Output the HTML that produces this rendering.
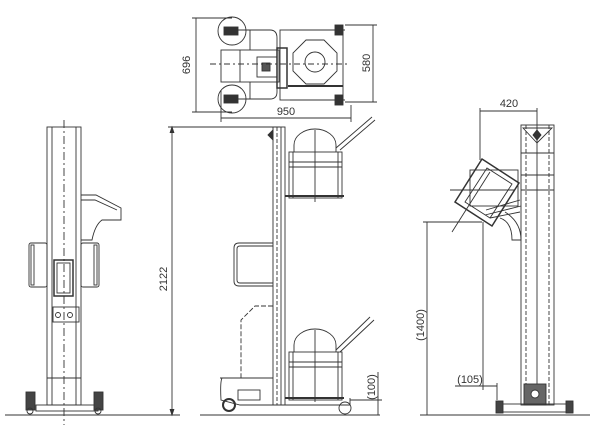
<!DOCTYPE html>
<html><head><meta charset="utf-8"><style>
html,body{margin:0;padding:0;background:#fff;width:600px;height:434px;overflow:hidden}
svg{display:block}
text{font-family:"Liberation Sans",sans-serif;font-size:11px;fill:#333;stroke:none}
</style></head><body>
<svg width="600" height="434" viewBox="0 0 600 434" xmlns="http://www.w3.org/2000/svg" fill="none" stroke="#333" stroke-width="0.9">
<line x1="5" y1="415" x2="180" y2="415"/>
<line x1="200" y1="415" x2="380" y2="415"/>
<line x1="420" y1="415" x2="590" y2="415"/>

<!-- LEFT VIEW -->
<rect x="47" y="127" width="34" height="278"/>
<line x1="52" y1="127" x2="52" y2="405"/><line x1="76" y1="127" x2="76" y2="405"/>
<line x1="64" y1="120" x2="64" y2="425" stroke-dasharray="8,3,2,3"/>
<path d="M81 195 L96 195 L121 208 L121 220 L102 220 Q95 225 92 240 L81 240"/>
<path d="M81 200 L95 200 L117 210"/>
<rect x="29" y="243" width="18" height="44" rx="2"/><rect x="31" y="245" width="3" height="40"/>
<rect x="81" y="243" width="18" height="44" rx="2"/><rect x="94" y="245" width="3" height="40"/>
<rect x="54" y="260" width="19" height="36" stroke-width="1.5"/>
<rect x="57" y="263" width="13" height="30"/>
<rect x="53" y="307" width="26" height="15"/>
<circle cx="58" cy="315" r="2.5"/><circle cx="70" cy="315" r="2.5"/>
<line x1="47" y1="378" x2="81" y2="378"/>
<rect x="36" y="405" width="62" height="6"/>
<rect x="26" y="392" width="9" height="18" fill="#444"/><circle cx="30" cy="411" r="3"/>
<rect x="94" y="392" width="9" height="18" fill="#444"/><circle cx="98" cy="411" r="3"/>

<!-- 2122 dimension -->
<line x1="172" y1="127" x2="172" y2="415"/>
<line x1="168" y1="127" x2="280" y2="127"/>
<path d="M170 133 L172 127 L174 133 M170 409 L172 415 L174 409" fill="#333"/>
<text transform="translate(167,279) rotate(-90)" text-anchor="middle">2122</text>

<!-- TOP VIEW -->
<line x1="196" y1="18" x2="196" y2="112"/>
<line x1="192" y1="18" x2="232" y2="18"/><line x1="192" y1="112" x2="232" y2="112"/>
<text transform="translate(190,65) rotate(-90)" text-anchor="middle">696</text>
<circle cx="232" cy="31" r="14"/><circle cx="232" cy="99" r="14"/>
<rect x="224" y="27" width="14" height="8" fill="#333"/><rect x="224" y="95" width="14" height="8" fill="#333"/>
<path d="M238 30 L270 30 Q277 30 277 38 L277 50 M238 99 L270 99 Q277 99 277 92 L277 82"/>
<path d="M250 30 L250 50 M250 99 L250 82"/>
<rect x="221" y="50" width="58" height="32"/>
<line x1="240" y1="50" x2="240" y2="82"/>
<rect x="257" y="57" width="20" height="20"/><rect x="262" y="63" width="8" height="8" fill="#555"/>
<rect x="277" y="48" width="10" height="40" stroke-width="1.5"/>
<rect x="280" y="30" width="63" height="70"/>
<line x1="290" y1="30" x2="345" y2="30"/><line x1="290" y1="100" x2="345" y2="100"/>
<rect x="335" y="25" width="8" height="10" fill="#333"/><rect x="335" y="95" width="8" height="10" fill="#333"/>
<polygon points="306,40 324,40 337,53 337,71 324,84 306,84 293,71 293,53"/>
<circle cx="315" cy="62" r="10"/>
<line x1="288" y1="86" x2="343" y2="86" stroke-width="2"/>
<line x1="210" y1="64" x2="350" y2="64" stroke-dasharray="6,3,2,3"/>
<line x1="221" y1="118" x2="351" y2="118"/>
<line x1="221" y1="90" x2="221" y2="122"/><line x1="351" y1="105" x2="351" y2="122"/>
<text x="286" y="115" text-anchor="middle">950</text>
<line x1="373" y1="25" x2="373" y2="102"/>
<line x1="345" y1="25" x2="377" y2="25"/><line x1="345" y1="102" x2="377" y2="102"/>
<text transform="translate(370,63) rotate(-90)" text-anchor="middle">580</text>

<!-- MIDDLE VIEW -->
<rect x="273" y="127" width="12" height="278"/>
<line x1="277" y1="127" x2="277" y2="405" stroke-dasharray="4,2"/>
<line x1="281" y1="127" x2="281" y2="405"/>
<path d="M268 135 L273 130 L273 140 Z" fill="#333"/>
<path d="M294 152 L294 145 A21 16 0 0 1 336 145 L336 152"/>
<rect x="289" y="152" width="53" height="46"/>
<line x1="289" y1="162" x2="342" y2="162"/><line x1="289" y1="167" x2="342" y2="167"/>
<line x1="293" y1="152" x2="293" y2="198"/><line x1="338" y1="152" x2="338" y2="198"/>
<line x1="285" y1="196" x2="344" y2="196" stroke-width="2"/>
<line x1="315" y1="130" x2="315" y2="202"/>
<line x1="336" y1="148" x2="372" y2="117"/><line x1="340" y1="150" x2="375" y2="120"/>
<path d="M294 352 L294 345 A21 16 0 0 1 336 345 L336 352"/>
<rect x="289" y="352" width="53" height="48"/>
<line x1="289" y1="362" x2="342" y2="362"/><line x1="289" y1="367" x2="342" y2="367"/>
<line x1="293" y1="352" x2="293" y2="400"/><line x1="338" y1="352" x2="338" y2="400"/>
<line x1="285" y1="398" x2="344" y2="398" stroke-width="2"/>
<line x1="315" y1="330" x2="315" y2="402"/>
<line x1="336" y1="350" x2="370" y2="317"/><line x1="340" y1="352" x2="374" y2="320"/>
<path d="M273 243 L239 243 Q234 243 234 248 L234 281 Q234 286 239 286 L273 286"/>
<path d="M273 246 L240 246 Q237 246 237 249 L237 280 Q237 283 240 283 L273 283"/>
<path d="M273 306 L255 306 L241 320 L241 378" stroke-dasharray="5,2"/>
<path d="M220 378 L273 378 M222 378 Q220 382 221 400 L240 405 L350 405 L350 398"/>
<rect x="238" y="390" width="22" height="10"/>
<circle cx="229" cy="405" r="6" stroke-width="2"/>
<circle cx="345" cy="408" r="6"/>
<line x1="378" y1="372" x2="378" y2="415"/>
<line x1="350" y1="400" x2="382" y2="400"/>
<text transform="translate(375,387) rotate(-90)" text-anchor="middle">(100)</text>

<!-- RIGHT VIEW -->
<rect x="521" y="125" width="33" height="280"/>
<line x1="526" y1="125" x2="526" y2="405" stroke-dasharray="4,2"/>
<line x1="549" y1="125" x2="549" y2="405" stroke-dasharray="4,2"/>
<line x1="537" y1="125" x2="537" y2="405"/>
<path d="M523 128 L552 128 L537 143 Z"/>
<path d="M537 130 L541 135 L537 140 L533 135 Z" fill="#333"/>
<line x1="521" y1="153" x2="554" y2="153"/><line x1="521" y1="175" x2="554" y2="175"/><line x1="521" y1="190" x2="554" y2="190"/>
<rect x="524" y="384" width="22" height="21" fill="#666"/>
<circle cx="535" cy="394" r="4" fill="#fff"/>
<rect x="500" y="404" width="73" height="8"/>
<rect x="496" y="401" width="7" height="12" fill="#444"/><rect x="566" y="401" width="7" height="12" fill="#444"/>
<polygon points="482,159 519,183 492,226 455,202" stroke-width="1.5"/>
<polygon points="487,168 512,184 490,218 465,202"/>
<rect x="470" y="170" width="48" height="36"/>
<line x1="450" y1="190" x2="515" y2="190"/>
<line x1="452" y1="232" x2="490" y2="172"/>
<path d="M486 210 L520 200 M485 215 L521 206 M490 218 L520 212"/>
<path d="M500 218 Q512 222 512 240 L521 240 Q521 222 505 212"/>
<line x1="480" y1="111" x2="537" y2="111"/>
<line x1="480" y1="108" x2="480" y2="160"/><line x1="537" y1="108" x2="537" y2="125"/>
<text x="509" y="107" text-anchor="middle">420</text>
<line x1="427" y1="222" x2="427" y2="415"/>
<line x1="423" y1="222" x2="482" y2="222"/>
<text transform="translate(424,325) rotate(-90)" text-anchor="middle">(1400)</text>
<line x1="483" y1="222" x2="483" y2="390"/>
<line x1="497" y1="383" x2="497" y2="400"/>
<line x1="455" y1="386" x2="497" y2="386"/>
<text x="470" y="383" text-anchor="middle">(105)</text>
</svg>
</body></html>
